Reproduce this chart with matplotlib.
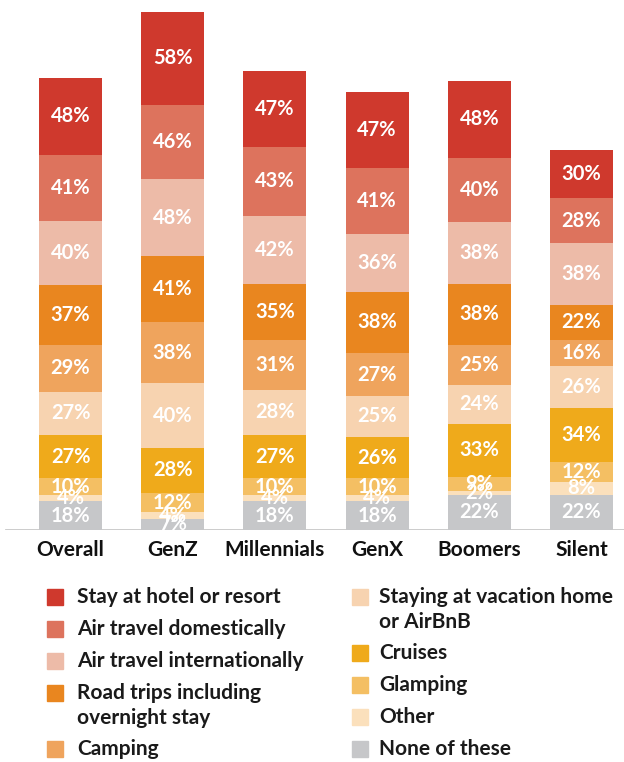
import matplotlib
matplotlib.use("Agg")
import matplotlib.pyplot as plt
from matplotlib.patches import Rectangle
import numpy as np

categories = ["Overall", "GenZ", "Millennials", "GenX", "Boomers", "Silent"]

# series from bottom to top
none_of_these = [18, 7, 18, 18, 22, 22]
other = [4, 4, 4, 4, 2, 8]
glamping = [10, 12, 10, 10, 9, 12]
cruises = [27, 28, 27, 26, 33, 34]
vacation_home = [27, 40, 28, 25, 24, 26]
camping = [29, 38, 31, 27, 25, 16]
road_trips = [37, 41, 35, 38, 38, 22]
air_intl = [40, 48, 42, 36, 38, 38]
air_domestic = [41, 46, 43, 41, 40, 28]
hotel = [48, 58, 47, 47, 48, 30]

series_values = [none_of_these, other, glamping, cruises, vacation_home,
                 camping, road_trips, air_intl, air_domestic, hotel]
colors = ["#C6C7C9", "#FBE0BC", "#F4BF63", "#EFAA1B", "#F7D3B0",
          "#EFA45D", "#E9861F", "#EDBBA8", "#DD735D", "#CF392D"]

W, H = 624, 762
fig = plt.figure(figsize=(W / 100, H / 100), dpi=100)
base_px = 530
scale = 1.61
ax = fig.add_axes([0, (H - base_px) / H, 1, base_px / H])
spacing = 102.2
x0 = 70.5
x = np.arange(len(categories))
ax.set_xlim(-x0 / spacing, (W - x0) / spacing)
ax.set_ylim(0, base_px / scale)

font = ["Lato", "DejaVu Sans"]
bottom = np.zeros(len(categories))
for vals, col in zip(series_values, colors):
    bars = ax.bar(x, vals, width=63 / spacing, bottom=bottom, color=col,
                  edgecolor="none", zorder=2)
    ax.bar_label(bars, labels=[f"{v}%" for v in vals], label_type="center",
                 color="white", fontsize=14.5, fontfamily=font,
                 fontweight="bold", zorder=3)
    bottom += np.array(vals)

for s in ax.spines.values():
    s.set_visible(False)
ax.set_yticks([])
ax.set_xticks([])
ax.axhline(0, xmin=6 / W, xmax=1, color="#C8C8C8", lw=2, zorder=1)

for xi, c in zip(x, categories):
    ax.text(xi, -(550 - base_px) / scale, c, ha="center", va="center",
            fontsize=15, fontweight="bold", family=font, color="#111111")

# legend (manual)
legend_col1 = [("Stay at hotel or resort", "#CF392D", 597),
               ("Air travel domestically", "#DD735D", 629),
               ("Air travel internationally", "#EDBBA8", 661),
               ("Road trips including\novernight stay", "#E9861F", 693),
               ("Camping", "#EFA45D", 749)]
legend_col2 = [("Staying at vacation home\nor AirBnB", "#F7D3B0", 597),
               ("Cruises", "#EFAA1B", 653),
               ("Glamping", "#F4BF63", 685),
               ("Other", "#FBE0BC", 717),
               ("None of these", "#C6C7C9", 749)]
for items, sx, tx in [(legend_col1, 47, 77), (legend_col2, 352, 379)]:
    for label, col, yc in items:
        fig.patches.append(Rectangle((sx / W, 1 - (yc + 8) / H), 16 / W, 16 / H,
                                     transform=fig.transFigure, color=col))
        for k, ln in enumerate(label.split("\n")):
            fig.text(tx / W, 1 - (yc + 25 * k) / H, ln, ha="left", va="center",
                     fontsize=15, fontweight="bold", family=font,
                     color="#1a1a1a")

fig.savefig("out.png", dpi=100)
